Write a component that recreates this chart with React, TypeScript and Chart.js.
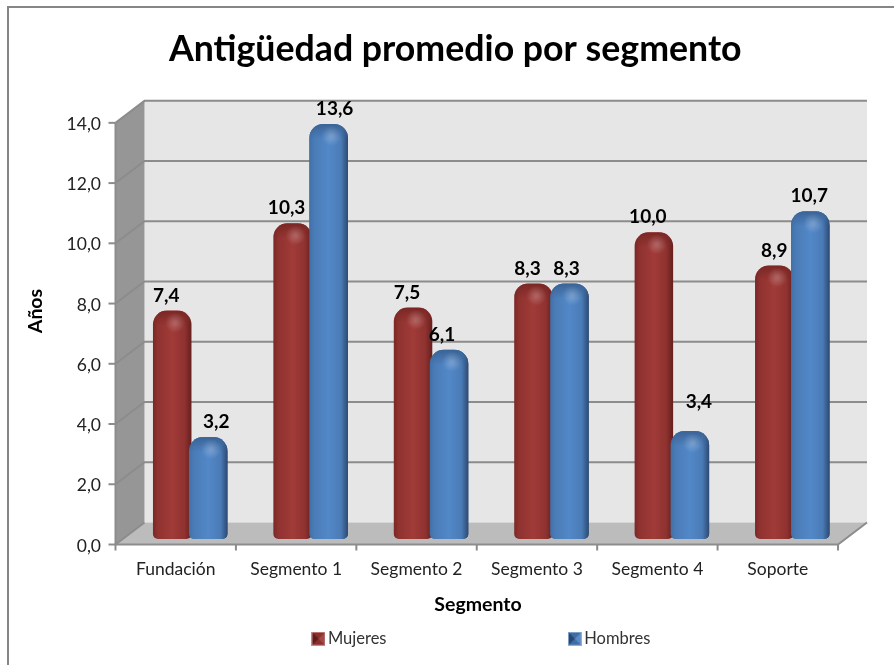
import React, { useEffect, useRef } from "react";
import { Chart, registerables } from "chart.js";

Chart.register(...registerables);

const categories = ["Fundación", "Segmento 1", "Segmento 2", "Segmento 3", "Segmento 4", "Soporte"];
const mujeres = [7.4, 10.3, 7.5, 8.3, 10.0, 8.9];
const hombres = [3.2, 13.6, 6.1, 8.3, 3.4, 10.7];
const chartTitle = "Antigüedad promedio por segmento";
const xAxisTitle = "Segmento";
const yAxisTitle = "Años";

const FONT = "Lato, Carlito, Calibri, sans-serif";
const DX = 14.5;
const DY = 11;
const SLOT = 36;
const BAR_W = 38.5;

// hand-placed label nudges of the source chart (pixels)
const labelNudgeX = [
  [-6, 8],
  [-6, 6],
  [-6, -7],
  [-6, -3],
  [-6, 9],
  [0, -1],
];
const labelNudgeY = [
  [0, 0],
  [0, 0],
  [0, 0],
  [0, 0],
  [0, -14],
  [0, 0],
];

const palette = [
  { edgeL: "#7a2826", mid: "#a03b38", midL: "#8f3230", edgeR: "#651f1d", top: "#7a2725" },
  { edgeL: "#4170a6", mid: "#5288c8", midL: "#4a7bb6", edgeR: "#2c4a73", top: "#3a6396" },
];

function barFill(c: any) {
  const ds = c.datasetIndex ?? 0;
  const p = palette[ds];
  const s = c.chart.scales?.x;
  if (!s || c.dataIndex === undefined) return p.mid;
  const cx = s.getPixelForValue(c.dataIndex) + (ds === 0 ? -SLOT / 2 : SLOT / 2);
  const l = cx - BAR_W / 2;
  const g = c.chart.ctx.createLinearGradient(l, 0, l + BAR_W, 0);
  g.addColorStop(0, p.edgeL);
  g.addColorStop(0.12, p.midL);
  g.addColorStop(0.5, p.mid);
  g.addColorStop(0.82, p.midL);
  g.addColorStop(1, p.edgeR);
  return g;
}

function legendSwatch(ds: number) {
  const cv = document.createElement("canvas");
  cv.width = 14;
  cv.height = 14;
  const x = cv.getContext("2d")!;
  const colors = ds === 0 ? ["#c98b89", "#8c2f2d", "#5e1c1a", "#a14a48"] : ["#8db0da", "#3f6ea5", "#2a476f", "#5d8cc4"];
  x.fillStyle = colors[0];
  x.fillRect(0, 0, 14, 14);
  x.fillStyle = colors[1];
  x.fillRect(1, 1, 12, 12);
  x.fillStyle = colors[2];
  x.beginPath();
  x.moveTo(1, 1);
  x.lineTo(7, 7);
  x.lineTo(1, 13);
  x.closePath();
  x.fill();
  x.fillStyle = colors[3];
  x.beginPath();
  x.moveTo(13, 1);
  x.lineTo(7, 7);
  x.lineTo(13, 13);
  x.closePath();
  x.fill();
  return cv;
}

const barStyle = {
  base: -0.18,
  clip: false,
  categoryPercentage: (SLOT * 2) / 120.4,
  barPercentage: BAR_W / SLOT,
  backgroundColor: barFill,
  borderWidth: 0,
  borderSkipped: false,
  borderRadius: { topLeft: 14, topRight: 14, bottomLeft: 5, bottomRight: 5 },
};

const scene3d = {
  id: "scene3d",
  afterLayout(chart: any) {
    const leg = chart.legend;
    const pad = leg.options.labels.padding;
    leg.top = 630.5 - pad;
    leg.bottom = 664;
    leg.left += 28.5;
    leg.right += 28.5;
  },
  beforeDatasetsDraw(chart: any) {
    const { ctx, chartArea: a, scales } = chart;
    const y = scales.y;
    const x = scales.x;
    const y0 = y.getPixelForValue(0);
    const yT = y.getPixelForValue(14);
    ctx.save();
    // outer frame
    ctx.fillStyle = "#868686";
    ctx.fillRect(7, 6, 887, 2);
    ctx.fillRect(7, 6, 2, 659);
    // back wall
    ctx.fillStyle = "#e6e6e6";
    ctx.fillRect(a.left + DX, yT - DY, a.right - a.left, y0 - yT);
    // side wall
    ctx.fillStyle = "#969696";
    ctx.beginPath();
    ctx.moveTo(a.left + DX, yT - DY);
    ctx.lineTo(a.left - DX, yT + DY);
    ctx.lineTo(a.left - DX, y0 + DY);
    ctx.lineTo(a.left + DX, y0 - DY);
    ctx.closePath();
    ctx.fill();
    // floor
    ctx.fillStyle = "#bcbcbc";
    ctx.beginPath();
    ctx.moveTo(a.left + DX, y0 - DY);
    ctx.lineTo(a.right + DX, y0 - DY);
    ctx.lineTo(a.right - DX, y0 + DY);
    ctx.lineTo(a.left - DX, y0 + DY);
    ctx.closePath();
    ctx.fill();
    // gridlines
    ctx.strokeStyle = "#8c8c8c";
    ctx.lineWidth = 2;
    y.ticks.forEach((t: any) => {
      const py = y.getPixelForValue(t.value);
      ctx.beginPath();
      ctx.moveTo(a.left - DX, py + DY);
      ctx.lineTo(a.left + DX, py - DY);
      if (t.value !== 0) ctx.lineTo(a.right + DX, py - DY);
      ctx.stroke();
      ctx.beginPath();
      ctx.moveTo(a.left - DX - 7, py + DY);
      ctx.lineTo(a.left - DX, py + DY);
      ctx.stroke();
    });
    // axes lines
    ctx.strokeStyle = "#8c8c8c";
    ctx.beginPath();
    ctx.moveTo(a.left - DX, yT + DY);
    ctx.lineTo(a.left - DX, y0 + DY);
    ctx.lineTo(a.right - DX, y0 + DY);
    ctx.lineTo(a.right + DX, y0 - DY);
    ctx.stroke();
    categories.forEach((_, i) => {
      const px = x.getPixelForValue(i) - (a.right - a.left) / 12 - DX;
      ctx.beginPath();
      ctx.moveTo(px, y0 + DY);
      ctx.lineTo(px, y0 + DY + 6);
      ctx.stroke();
    });
    ctx.beginPath();
    ctx.moveTo(a.right - DX, y0 + DY);
    ctx.lineTo(a.right - DX, y0 + DY + 6);
    ctx.stroke();
    ctx.restore();
  },
  afterDatasetsDraw(chart: any) {
    const { ctx } = chart;
    const shadeBars = (ds: number) => {
      const p = palette[ds];
      chart.getDatasetMeta(ds).data.forEach((el: any) => {
        const { x, y, width } = el.getProps(["x", "y", "width"], true);
        const l = x - width / 2;
        ctx.save();
        ctx.beginPath();
        ctx.roundRect(l, y, width, 30, [14, 14, 0, 0]);
        ctx.clip();
        const g = ctx.createLinearGradient(0, y, 0, y + 15);
        g.addColorStop(0, p.top);
        g.addColorStop(1, p.top + "00");
        ctx.fillStyle = g;
        ctx.fillRect(l, y, width, 16);
        const h = ctx.createRadialGradient(x + 3, y + 12, 1, x + 3, y + 12, 10);
        h.addColorStop(0, "rgba(255,255,255,0.22)");
        h.addColorStop(1, "rgba(255,255,255,0)");
        ctx.fillStyle = h;
        ctx.fillRect(l, y, width, 30);
        ctx.restore();
      });
    };
    shadeBars(0);
    // the right-hand bar overlaps the left-hand one, as in the source
    chart.getDatasetMeta(1).data.forEach((el: any) => el.draw(ctx));
    shadeBars(1);

    // value labels
    ctx.save();
    ctx.font = `bold 19px ${FONT}`;
    ctx.fillStyle = "#000";
    ctx.textAlign = "center";
    ctx.textBaseline = "middle";
    [0, 1].forEach((ds) => {
      chart.getDatasetMeta(ds).data.forEach((el: any, i: number) => {
        const v = chart.data.datasets[ds].data[i] as number;
        const { x, y } = el.getProps(["x", "y"], true);
        ctx.fillText(v.toFixed(1).replace(".", ","), x + labelNudgeX[i][ds], y - 15 + labelNudgeY[i][ds]);
      });
    });
    // axis titles, centred on the front plane of the 3-D box
    ctx.font = `bold 19.5px ${FONT}`;
    ctx.fillText(xAxisTitle, 478, 605);
    ctx.translate(36, 311);
    ctx.rotate(-Math.PI / 2);
    ctx.fillText(yAxisTitle, 0, 0);
    ctx.restore();
  },
};

export default function App() {
  const ref = useRef<HTMLCanvasElement>(null);
  useEffect(() => {
    const chart = new Chart(ref.current!, {
      type: "bar",
      data: {
        labels: categories,
        datasets: [
          { label: "Mujeres", data: mujeres, ...barStyle },
          { label: "Hombres", data: hombres, ...barStyle },
        ],
      } as any,
      plugins: [scene3d],
      options: {
        responsive: false,
        animation: false,
        layout: { padding: { left: 58, right: 41.5, top: 28, bottom: 8 } },
        plugins: {
          title: {
            display: true,
            text: chartTitle,
            color: "#000",
            font: { family: FONT, size: 35.7, weight: "bold" },
            padding: { top: 0, bottom: 41 },
          },
          tooltip: { enabled: false },
          legend: {
            position: "bottom",
            maxHeight: 40,
            labels: {
              color: "#333",
              font: { family: FONT, size: 16.5 },
              padding: 187,
              usePointStyle: true,
              pointStyleWidth: 2.5,
              generateLabels: () =>
                ["Mujeres", "Hombres"].map((text, i) => ({
                  text,
                  datasetIndex: i,
                  fontColor: "#333",
                  pointStyle: legendSwatch(i),
                  hidden: false,
                })),
            },
          } as any,
        },
        scales: {
          x: {
            grid: { display: false, drawTicks: false },
            border: { display: false },
            ticks: {
              color: "#222",
              font: { family: FONT, size: 17.5 },
              padding: 25,
              labelOffset: -DX,
              maxRotation: 0,
              autoSkip: false,
            },
            afterFit: (s: any) => {
              s.height = 83.5;
            },
          },
          y: {
            min: 0,
            max: 14,
            grid: { display: false, drawTicks: false },
            border: { display: false },
            ticks: {
              stepSize: 2,
              color: "#222",
              font: { family: FONT, size: 17.5 },
              padding: 29,
              labelOffset: DY + 1.5,
              callback: (v: any) => Number(v).toFixed(1).replace(".", ","),
            },
            afterFit: (s: any) => {
              s.width = 72;
            },
          },
        },
      } as any,
    });
    return () => chart.destroy();
  }, []);
  return <canvas ref={ref} width={894} height={665} style={{ position: "fixed", left: 0, top: 0 }} />;
}
